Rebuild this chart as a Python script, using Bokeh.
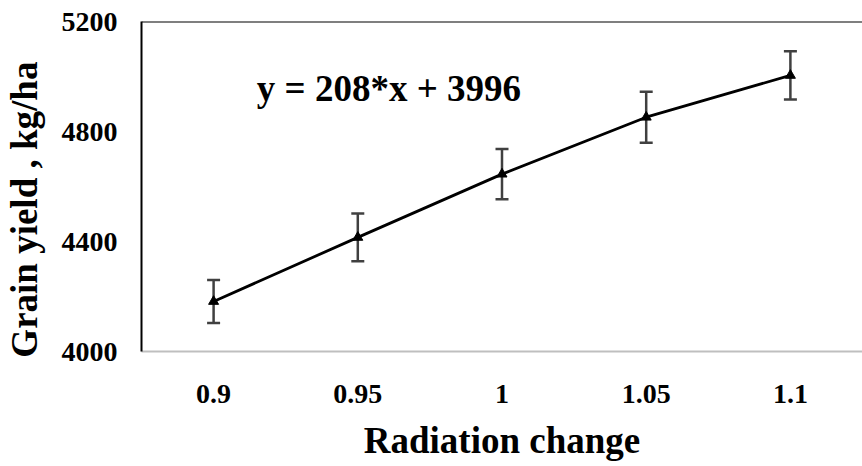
from bokeh.plotting import figure
from bokeh.models import (ColumnDataSource, FactorRange, Range1d, FixedTicker,
                          Whisker, TeeHead, Span, Label)
from bokeh.embed import file_html
from bokeh.resources import INLINE

# ---- data ----
radiation = ["0.9", "0.95", "1", "1.05", "1.1"]
grain_yield = [4182, 4415, 4645, 4852, 5004]
yield_err = [78, 87, 91, 93, 88]
y_ticks = [4000, 4400, 4800, 5200]
equation = "y = 208*x + 3996"
y_title = "Grain yield , kg/ha"
x_title = "Radiation change"

FONT = "'Liberation Serif'"

src = ColumnDataSource(dict(
    x=radiation,
    y=grain_yield,
    upper=[v + e for v, e in zip(grain_yield, yield_err)],
    lower=[v - e for v, e in zip(grain_yield, yield_err)],
))

p = figure(width=862, height=466, x_range=FactorRange(*radiation, range_padding=0),
           y_range=Range1d(4000, 5200), output_backend="svg",
           toolbar_location=None, min_border_left=141, min_border_right=0,
           min_border_top=21, min_border_bottom=115)
p.outline_line_color = None
p.grid.grid_line_color = None
p.background_fill_color = "white"
p.border_fill_color = "white"

# y axis
ya = p.yaxis[0]
ya.ticker = FixedTicker(ticks=y_ticks)
ya.major_tick_out = 0
ya.major_tick_in = 0
ya.minor_tick_out = 0
ya.minor_tick_in = 0
ya.axis_line_color = "black"
ya.axis_line_width = 2
ya.major_label_text_font = FONT
ya.major_label_text_font_style = "bold"
ya.major_label_text_font_size = "28px"
ya.major_label_text_color = "black"
ya.major_label_standoff = 24
# trailing no-break spaces shift the title a little below the frame centre
ya.axis_label = y_title + "\u00a0" * 5
ya.axis_label_text_font = FONT
ya.axis_label_text_font_style = "bold"
ya.axis_label_text_font_size = "37px"
ya.axis_label_text_color = "black"
ya.axis_label_standoff = 14

# x axis
xa = p.xaxis[0]
xa.major_tick_out = 0
xa.major_tick_in = 0
xa.axis_line_color = "#bfbfbf"
xa.axis_line_width = 2
xa.major_label_text_font = FONT
xa.major_label_text_font_style = "bold"
xa.major_label_text_font_size = "28px"
xa.major_label_text_color = "black"
xa.major_label_standoff = 33
xa.axis_label = x_title
xa.axis_label_text_font = FONT
xa.axis_label_text_font_style = "bold"
xa.axis_label_text_font_size = "37px"
xa.axis_label_text_color = "black"
xa.axis_label_standoff = 14

# top border
p.add_layout(Span(location=5200, dimension="width", line_color="black", line_width=2))

# error bars
w = Whisker(source=src, base="x", upper="upper", lower="lower",
            line_color="#404040", line_width=2.5,
            upper_head=TeeHead(size=13, line_color="#404040", line_width=2.5),
            lower_head=TeeHead(size=13, line_color="#404040", line_width=2.5))
p.add_layout(w)

p.line("x", "y", source=src, line_color="black", line_width=2.8)
p.scatter("x", "y", source=src, marker="triangle", size=10,
          fill_color="black", line_color="black")

p.add_layout(Label(x=0.8, y=4957, text=equation, text_font=FONT,
                   text_font_style="bold", text_font_size="37px",
                   text_color="black", text_baseline="alphabetic"))

open("out.html", "w").write(file_html(p, INLINE))
